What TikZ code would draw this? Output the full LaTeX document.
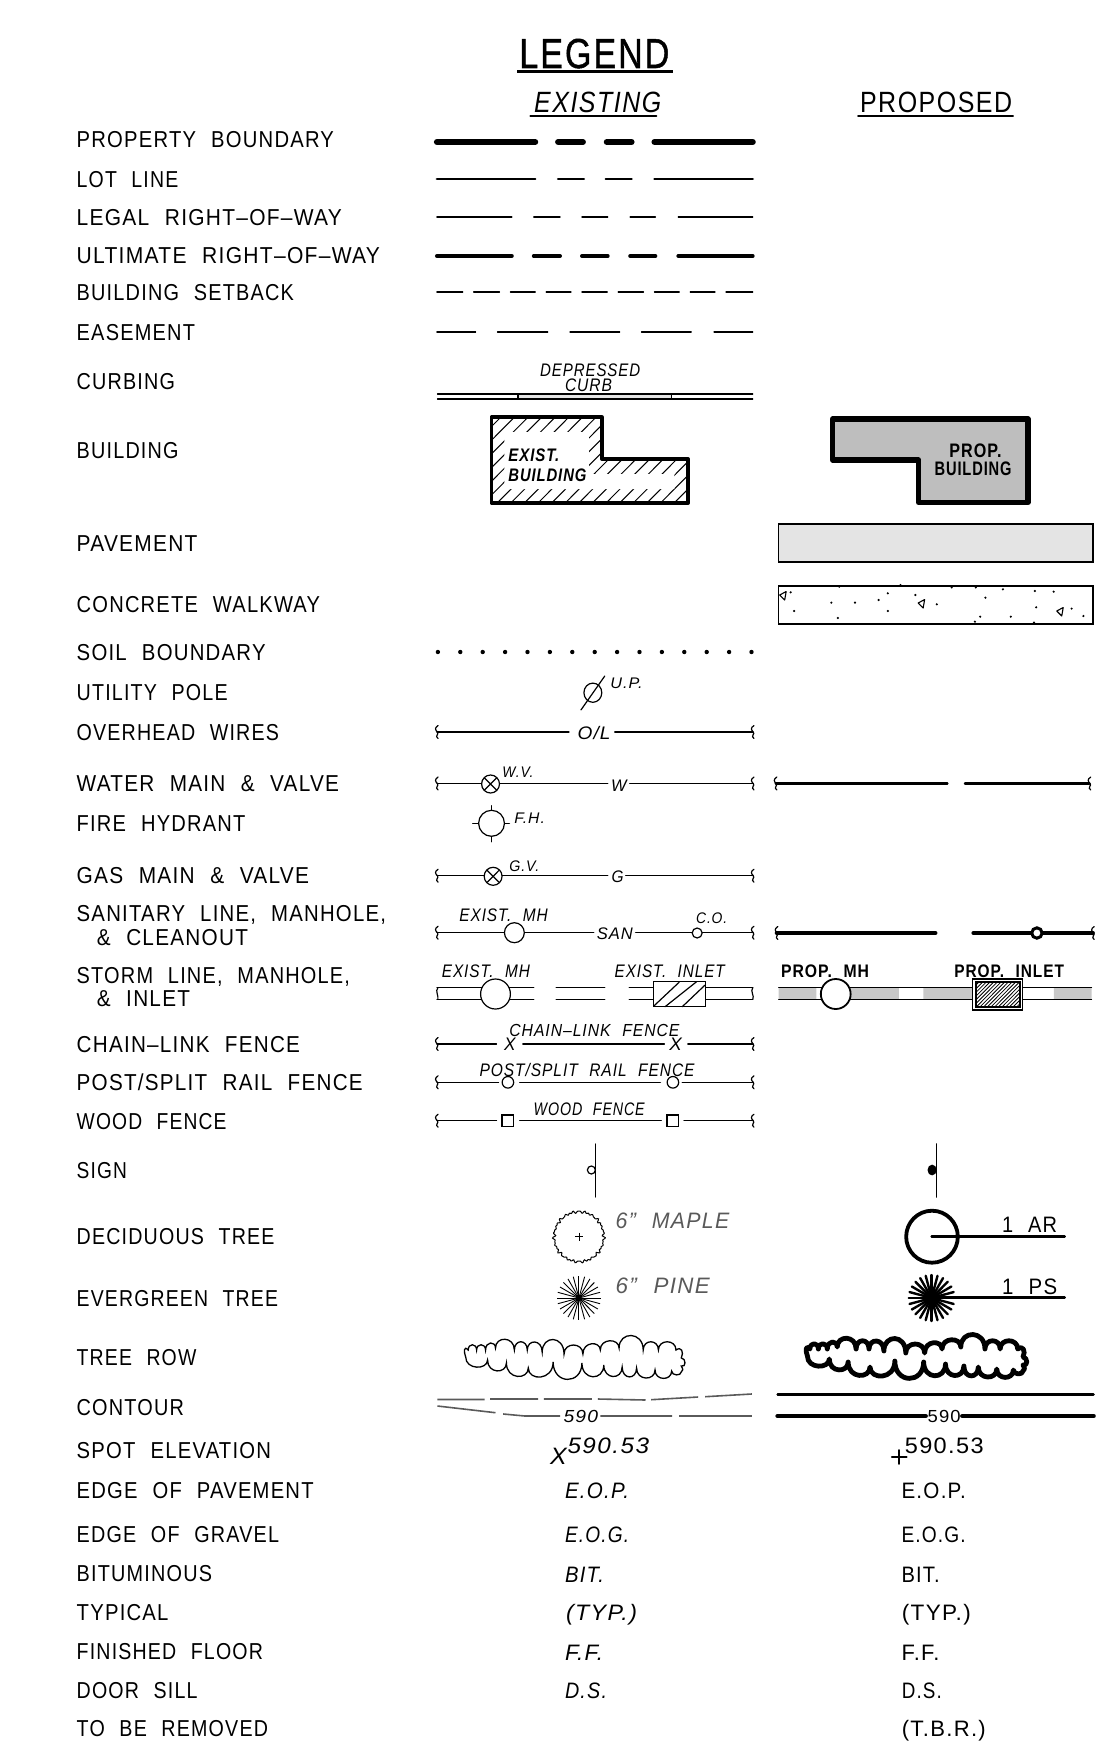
\documentclass[tikz,border=0pt]{standalone}
\usepackage{fontspec}
\usepackage{graphicx}
\setmainfont{Liberation Sans}[WordSpace=2.2,LetterSpace=6]
\newfontfamily\lgf{Liberation Sans}[FakeBold=1.2,LetterSpace=6]
\newcount\tcnt
\tikzset{
 txt/.style={anchor=base west,inner sep=0pt,outer sep=0pt},
 it/.style={font=\itshape},
 lnA/.style={line width=.6pt,line cap=round},
 lnB/.style={line width=.9pt,line cap=round},
 lnC/.style={line width=1.25pt,line cap=round},
 lnD/.style={line width=1.9pt,line cap=round},
 lnE/.style={line width=3pt,line cap=round},
 fl/.style={fill=white,draw=black},
}
\definecolor{bldg}{HTML}{BEBEBE}
\definecolor{pave}{HTML}{E4E4E4}
\definecolor{band}{HTML}{C8C8C8}
\definecolor{cont}{HTML}{5A5A5A}
\newcommand\T[6][]{\global\advance\tcnt by 1 \pgfmathsetmacro\fs{(#5)*0.698}\pgfmathsetmacro\ww{(#4)*0.5}%
 \node[txt,#1] (t\the\tcnt) at (#2,#3) {\resizebox{\ww pt}{\height}{\fontsize{\fs}{\fs}\selectfont #6}};}
\newcommand\Lb[3]{\T{76.7}{#1-1}{#2-76.7}{16.5}{#3}}
\newcommand\Lc[3]{\T{97}{#1-1}{#2-97}{16.5}{#3}}
\newcommand\brk[2]{\draw[lnA,shift={(#1,#2)}] (1.2,-6.5) .. controls (-2.6,-4) and (-1.6,-2) .. (0.5,0) .. controls (2.6,2) and (-2.6,4) .. (1.2,6.5);}
\newcommand\cloudp{(468.5,1350)
 .. controls (468.5,1343) and (477,1343) .. (477,1350)
 .. controls (477,1343) and (486,1343) .. (486,1350)
 .. controls (486,1341) and (496,1341) .. (496,1348)
 .. controls (496,1336) and (515,1336) .. (515,1350)
 .. controls (515,1339) and (528,1339) .. (528,1350)
 .. controls (528,1339) and (543,1339) .. (543,1352)
 .. controls (543,1335) and (565,1335) .. (565,1354)
 .. controls (565,1342) and (584,1342) .. (584,1354)
 .. controls (584,1341) and (601.5,1341) .. (601.5,1350)
 .. controls (601.5,1338) and (620.4,1338) .. (620.4,1348)
 .. controls (620.4,1331) and (644.7,1331) .. (644.7,1350)
 .. controls (644.7,1339) and (660,1339) .. (660,1350)
 .. controls (660,1339) and (677.7,1339) .. (677.7,1350)
 .. controls (683,1346) and (686,1352) .. (683,1358)
 .. controls (688,1358) and (688,1368) .. (683,1366)
 .. controls (685,1369) and (685,1371) .. (683,1372)
 .. controls (683,1376) and (673.3,1376) .. (673.3,1371)
 .. controls (673.3,1381) and (656.6,1381) .. (656.6,1370)
 .. controls (656.6,1381) and (638,1381) .. (638,1368)
 .. controls (638,1380) and (623.5,1380) .. (623.5,1367)
 .. controls (623.5,1380) and (605,1380) .. (605,1365)
 .. controls (605,1381) and (583,1381) .. (583,1363)
 .. controls (583,1385) and (554,1385) .. (554,1362)
 .. controls (554,1381) and (529,1381) .. (529,1368)
 .. controls (529,1380) and (507,1380) .. (507,1363)
 .. controls (507,1374) and (488,1374) .. (488,1360)
 .. controls (488,1370) and (466,1370) .. (466,1357)
 .. controls (464,1352) and (464,1345) .. (468.5,1350) -- cycle}
\begin{document}
\begin{tikzpicture}[x=0.5pt,y=-0.5pt]
\useasboundingbox (0,0) rectangle (1106,1750);
% left labels
\Lb{149}{334}{PROPERTY BOUNDARY}
\Lb{188}{178.3}{LOT LINE}
\Lb{226}{341.7}{LEGAL RIGHT–OF–WAY}
\Lb{264}{380}{ULTIMATE RIGHT–OF–WAY}
\Lb{301}{294}{BUILDING SETBACK}
\Lb{341}{195}{EASEMENT}
\Lb{390}{175}{CURBING}
\Lb{459}{178.6}{BUILDING}
\Lb{552}{197.5}{PAVEMENT}
\Lb{613}{320}{CONCRETE WALKWAY}
\Lb{661}{265.6}{SOIL BOUNDARY}
\Lb{701}{227.7}{UTILITY POLE}
\Lb{741}{279}{OVERHEAD WIRES}
\Lb{792}{339}{WATER MAIN \& VALVE}
\Lb{832}{245.5}{FIRE HYDRANT}
\Lb{884}{309}{GAS MAIN \& VALVE}
\Lb{922}{386}{SANITARY LINE, MANHOLE,}
\Lc{946}{248}{\& CLEANOUT}
\Lb{984}{350}{STORM LINE, MANHOLE,}
\Lc{1007}{190}{\& INLET}
\Lb{1053}{300}{CHAIN–LINK FENCE}
\Lb{1091}{362.7}{POST/SPLIT RAIL FENCE}
\Lb{1130}{226.5}{WOOD FENCE}
\Lb{1179}{127}{SIGN}
\Lb{1245}{274.5}{DECIDUOUS TREE}
\Lb{1307}{278}{EVERGREEN TREE}
\Lb{1366.5}{196.4}{TREE ROW}
\Lb{1416.5}{184}{CONTOUR}
\Lb{1459}{271}{SPOT ELEVATION}
\Lb{1499}{313.6}{EDGE OF PAVEMENT}
\Lb{1543}{279}{EDGE OF GRAVEL}
\Lb{1582}{212}{BITUMINOUS}
\Lb{1621}{168.5}{TYPICAL}
\Lb{1660}{263}{FINISHED FLOOR}
\Lb{1699}{197.5}{DOOR SILL}
\Lb{1737}{268}{TO BE REMOVED}
\begin{scope}[xshift=1.386pt,xscale=.9934]
% headings
\T[font=\lgf]{520}{68}{150}{30}{LEGEND}
\draw[line width=1.5pt] (518,72) -- (675,72);
\T[it]{535}{113}{127}{21}{EXISTING}
\draw[lnB] (531,116) -- (658,116);
\T{863}{113}{152}{21}{PROPOSED}
\draw[lnB] (861,116) -- (1017,116);
% line types
\draw[lnE] (437,142)--(536,142) (559,142)--(584,142) (608,142)--(633,142) (656,142)--(755,142);
\draw[lnC] (437,179)--(536,179) (559,179)--(585,179) (607,179)--(633,179) (656,179)--(755,179);
\draw[lnA] (437,217)--(512.5,217) (534.5,217)--(561,217) (583,217)--(609,217) (631.5,217)--(657,217) (680,217)--(755,217);
\draw[lnD] (437,256)--(512.5,256) (534.5,256)--(561,256) (583,256)--(609,256) (631.5,256)--(657,256) (680,256)--(755,256);
\draw[lnA] (437,292)--(463,292) (474,292)--(500,292) (511,292)--(536,292) (547,292)--(572,292) (583,292)--(608.5,292) (619.5,292)--(645,292) (656,292)--(681,292) (692,292)--(717,292) (728,292)--(755,292);
\draw[lnA] (437,332)--(476,332) (498,332)--(548.6,332) (571,332)--(621,332) (643,332)--(693,332) (716,332)--(755,332);
% curbing
\T[it]{541}{376}{100}{13}{DEPRESSED}
\T[it]{566}{391}{47}{13}{CURB}
\fill[pave] (518.7,394) rectangle (673,399);
\draw[lnA] (437.6,394)--(755,394) (437.6,399)--(755,399) (518.7,394)--(518.7,399) (673,394)--(673,399);
% existing building
\begin{scope}
\clip (492,417)--(603,417)--(603,459)--(690,459)--(690,503)--(492,503)--cycle;
\foreach \i in {-7,...,24}{\draw[line width=.5pt] ({492+\i*13.7-10},505)--({492+\i*13.7+82},413);}
\fill[white] (505,432)--(590,432)--(590,474)--(676,474)--(676,489)--(505,489)--cycle;
\end{scope}
\draw[line width=1.75pt,line join=round] (492,417)--(603,417)--(603,459)--(690,459)--(690,503)--(492,503)--cycle;
\T[font=\bfseries\itshape]{509}{461}{51}{13}{EXIST.}
\T[font=\bfseries\itshape]{509}{481}{78}{13}{BUILDING}
% proposed building
\draw[fill=bldg,line width=2.7pt,line join=round] (835.5,419)--(1032,419)--(1032,502.5)--(922,502.5)--(922,460)--(835.5,460)--cycle;
\T[font=\bfseries]{953}{457}{52}{14}{PROP.}
\T[font=\bfseries]{938}{475}{77}{14}{BUILDING}
% pavement, concrete
\draw[fill=pave,line width=.8pt] (781,524) rectangle (1097.5,562);
\draw[line width=.8pt] (781,586) rectangle (1097.5,624);
\foreach \a/\b in {847/757,958/740,1098/735,1215/742,1270/742,1332/748,1405/753,1448/755,940/788,994/788,1069/760,1132/765,1292/773,1048/780,1181/793,855/813,1069/813,1408/802,1489/806,955/834,1280/830,1350/830,1516/828,1268/845,1403/848}
 {\fill ({420+\a/2.27},{340+\b/3}) circle[radius=.6pt];}
\foreach \a/\b in {785.6/596,925/604,1064.5/612}
 {\draw[line width=.55pt,line join=round] ({\a-3.5},{\b-1})--({\a+3},{\b-4.5})--({\a+1.5},{\b+4})--cycle;}
% soil
\foreach \i in {0,...,14}{\fill ({438+\i*22.55},652) circle[radius=1.1pt];}
% utility pole
\draw[lnA] (594,692.7) ellipse[x radius=4.5pt,y radius=4.8pt];
\draw[lnA] (582,710)--(606,676);
\T[it]{611.6}{688}{32.4}{11}{U.P.}
% overhead
\draw[lnA] (437,732)--(570,732) (616,732)--(755,732);
\brk{437}{732}\brk{755}{732}
\T[it]{578.6}{739}{33}{13}{O/L}
% water
\draw[lnA] (437,783.5)--(609,783.5) (631,783.5)--(755,783.5);
\brk{437}{783.5}\brk{755}{783.5}
\T[it]{612.5}{791}{15.5}{12}{W}
\draw[lnA,fl] (491,784) circle[radius=4.5pt];
\draw[lnA] (485,778)--(497,790) (485,790)--(497,778);
\T[it]{503}{777}{31}{11}{W.V.}
\draw[line width=1.1pt,line cap=round] (778,783.5)--(951,783.5) (968.5,783.5)--(1094,783.5);
\brk{778}{783.5}\brk{1094}{783.5}
% hydrant
\draw[lnA] (492,823.3) circle[radius=6.5pt];
\draw[lnA] (492,805.7)--(492,810) (492,836.5)--(492,841.7) (473,823.3)--(478.5,823.3) (505.5,823.3)--(510,823.3);
\T[it]{515}{823}{30.5}{11}{F.H.}
% gas
\draw[lnA] (437,875.7)--(609,875.7) (627,875.7)--(755,875.7);
\brk{437}{875.7}\brk{755}{875.7}
\T[it]{613}{882}{12}{12}{G}
\draw[lnA,fl] (493.6,876.3) circle[radius=4.5pt];
\draw[lnA] (487.6,870.3)--(499.6,882.3) (487.6,882.3)--(499.6,870.3);
\T[it]{510}{871}{30}{11}{G.V.}
% sanitary
\draw[lnA] (437,932.7)--(595,932.7) (637,932.7)--(755,932.7);
\brk{437}{932.7}\brk{755}{932.7}
\draw[lnA,fl] (515,932.7) circle[radius=5pt];
\draw[lnA,fl] (699,933) circle[radius=2.5pt];
\T[it]{459.6}{921}{88.4}{13}{EXIST. MH}
\T[it]{598}{939}{36}{12}{SAN}
\T[it]{698}{923}{31}{11}{C.O.}
\draw[lnD] (779,933)--(939,933) (977,933)--(1097.5,933);
\brk{779}{933}\brk{1097.5}{933}
\draw[line width=1.5pt,fill=white] (1041,933) circle[radius=2.6pt];
% storm
\draw[lnA] (437,987.7)--(534.5,987.7) (557,987.7)--(606,987.7) (630.6,987.7)--(755,987.7)
 (437,999.3)--(534.5,999.3) (557,999.3)--(606,999.3) (630.6,999.3)--(755,999.3);
\draw[lnA] (438,987.7) .. controls (435,991) and (439,996) .. (438,999.3);
\draw[lnA] (755,987.7) .. controls (752,991) and (757,996) .. (755,999.3);
\draw[lnA,fl] (496,994) circle[radius=7.5pt];
\draw[lnA,fl] (655,981.7) rectangle (707,1006.7);
\draw[lnA] (655.7,1005.7)--(680.8,982.3) (666.7,1006.7)--(698.4,981.7) (684,1006.7)--(707,985);
\T[it]{442}{977}{88}{13}{EXIST. MH}
\T[it]{616}{977}{110}{13}{EXIST. INLET}
\fill[band] (781,987.7) rectangle (819,999.3) (852,987.7) rectangle (902,999.3) (926.6,987.7) rectangle (977,999.3) (1058,987.7) rectangle (1096,999.3);
\draw[lnA] (781,987.7)--(1096,987.7) (781,999.3)--(1096,999.3);
\draw[lnB,fl] (838.5,994) circle[radius=7.5pt];
\draw[lnA,fl] (976,979) rectangle (1026.6,1010);
\begin{scope}
\clip (979.5,981.7) rectangle (1023.5,1007.3);
\fill[white] (979.5,981.7) rectangle (1023.5,1007.3);
\foreach \i in {0,...,20}{\draw[line width=.4pt] ({975+\i*3.7-24},1010)--({975+\i*3.7+8},978);}
\end{scope}
\draw[line width=1pt] (979.5,981.7) rectangle (1023.5,1007.3);
\T[font=\bfseries]{783.5}{977}{88}{13}{PROP. MH}
\T[font=\bfseries]{958}{977}{109.5}{13}{PROP. INLET}
% chain
\draw[lnA] (437,1044)--(497,1044) (523.5,1044)--(666,1044) (689.6,1044)--(755,1044);
\brk{437}{1044}\brk{755}{1044}
\T[it]{504.6}{1050}{11.5}{13}{X}
\T[it]{671}{1050}{12.5}{13}{X}
\T[it]{510}{1036.5}{170}{12.5}{CHAIN–LINK FENCE}
% post
\draw[lnA] (437,1082.3)--(499,1082.3) (520.4,1082.3)--(662,1082.3) (684,1082.3)--(755,1082.3);
\brk{437}{1082.3}\brk{755}{1082.3}
\draw[lnA] (508.5,1082.3) circle[radius=2.9pt] (674.6,1082.3) circle[radius=2.9pt];
\T[it]{480}{1076}{215}{13}{POST/SPLIT RAIL FENCE}
% wood
\draw[lnA] (437,1120.7)--(497,1120.7) (520.4,1120.7)--(663,1120.7) (685.6,1120.7)--(755,1120.7);
\brk{437}{1120.7}\brk{755}{1120.7}
\draw[lnA] (502.5,1115) rectangle (514.5,1126.5) (668.6,1115) rectangle (680.6,1126.5);
\T[it]{534.5}{1115}{111}{13}{WOOD FENCE}
% sign
\draw[lnA] (597,1144)--(597,1197);
\draw[lnA] (592.5,1170) circle[radius=2pt];
\draw[lnB] (940,1144)--(940,1197);
\fill (935.5,1170) ellipse[x radius=2.3pt,y radius=2.7pt];
% deciduous
\draw[line width=.5pt] plot[domain=0:360,samples=180] ({580+(25+.7*sin(23*\x)+.6*sin(41*\x)+.5*sin(31*\x))*cos(\x)},{1236.7+(25+.7*sin(23*\x)+.6*sin(41*\x)+.5*sin(31*\x))*sin(\x)}) -- cycle;
\draw[line width=.4pt] (576,1236.7)--(584,1236.7) (580,1232.7)--(580,1240.7);
\T[it,text=black!65]{617}{1228}{113.6}{16}{6" MAPLE}
\draw[line width=1.9pt] (935.4,1236.7) circle[radius=13pt];
\draw[lnC] (935,1236.7)--(1069,1236.7);
\T{1006}{1232}{55}{16}{1 AR}
% evergreen
\foreach \a in {0,15,...,345}{\draw[line width=.45pt] (580,1298)--++(\a:11pt);}
\T[it,text=black!65]{617}{1293}{94}{16}{6" PINE}
\foreach \a in {0,15,...,345}{\draw[line width=1.2pt,line cap=round] (935,1298)--++(\a:11.5pt);}
\draw[lnC] (935,1297.7)--(1069,1297.7);
\T{1006}{1294}{55}{16}{1 PS}
% tree row
\draw[line width=.65pt] \cloudp;
\begin{scope}[shift={(344,-1)}]
\draw[line width=2.4pt,line join=round] \cloudp;
\end{scope}
% contour
\draw[cont,line width=.8pt] (437.6,1399.5)--(485,1399.5) (490.5,1399)--(539,1399) (544.7,1399)--(593,1399) (599,1399)--(647,1400) (652.6,1399.7)--(700,1397) (707,1396.7)--(754,1394);
\draw[cont,line width=.8pt] (437.6,1406)--(496,1412.7) (503.7,1414)--(525.7,1416)--(561,1416) (601.5,1416)--(673.7,1416) (680.8,1416)--(754,1416);
\T[it]{564.5}{1422.7}{34.5}{12.5}{590}
\draw[lnC] (780,1394.7)--(1098,1394.7);
\draw[line width=2.3pt,line cap=round] (780,1416)--(929,1416) (966,1416)--(1098,1416);
\T{931}{1422.7}{33}{12.5}{590}
% spot
\T[it]{551}{1464}{16.6}{17}{X}
\T[it]{568.5}{1453}{81.5}{16}{590.53}
\draw[lnB] (895,1456.7)--(910,1456.7) (902,1450)--(902,1464);
\T{908}{1453}{79}{16}{590.53}
% abbreviations
\T[it]{566}{1498}{64}{16}{E.O.P.}
\T{904.7}{1498}{64.3}{16}{E.O.P.}
\T[it]{566}{1542}{64}{16}{E.O.G.}
\T{904.7}{1542}{64.3}{16}{E.O.G.}
\T[it]{566}{1582}{39}{16}{BIT.}
\T{904.7}{1582}{38.3}{16}{BIT.}
\T[it]{567}{1620}{71}{16}{(TYP.)}
\T{905}{1620}{69}{16}{(TYP.)}
\T[it]{566}{1660}{38}{16}{F.F.}
\T{904.7}{1660}{38}{16}{F.F.}
\T[it]{566}{1698}{42}{16}{D.S.}
\T{905}{1698}{40}{16}{D.S.}
\T{905}{1736}{84}{16}{(T.B.R.)}
\end{scope}
\end{tikzpicture}
\end{document}
